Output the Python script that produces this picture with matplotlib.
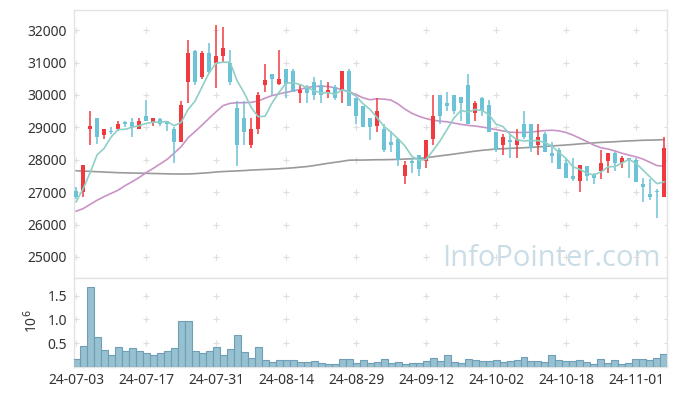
import matplotlib.pyplot as plt
import numpy as np

# daily candles, 85 trading days (24-07-03 .. 24-11-07)
opens = [27050, 27000, 28950, 29300, 28750, 28900, 28950, 29150, 29150, 28950,
         29350, 29150, 29250, 29200, 28950, 28550, 30400, 31350, 30550, 31300,
         31000, 31200, 31000, 29600, 29300, 28450, 28950, 30300, 30650, 30350,
         30800, 30750, 30050, 30200, 30400, 30300, 30050, 30250, 30150, 30750,
         29900, 29650, 29300, 29050, 28950, 28550, 28650, 27500, 27950, 28150,
         27950, 28650, 30000, 29750, 30000, 29950, 30300, 29450, 29900, 29700,
         28850, 28450, 28600, 28450, 29100, 29100, 28450, 28800, 28200, 28300,
         27900, 27500, 27350, 27800, 27550, 27650, 27950, 28200, 27900, 28050,
         28000, 27250, 26950, 27050, 26850]
highs = [27150, 27850, 29500, 29300, 28950, 29000, 29200, 29200, 29300, 29300,
         29850, 29300, 29300, 29200, 29000, 29800, 31700, 31400, 31350, 31600,
         32150, 32100, 31400, 29800, 29800, 29300, 30100, 30950, 30650, 31400,
         30800, 30800, 30300, 30300, 30550, 30450, 30400, 30300, 30750, 30800,
         29900, 29650, 29300, 29900, 29100, 28900, 28650, 27950, 28050, 28150,
         28600, 30000, 30000, 30100, 30000, 29950, 30650, 29800, 29950, 29850,
         28850, 28800, 28800, 28950, 29500, 29100, 29100, 28850, 28550, 28350,
         28050, 28050, 27850, 27800, 27600, 28300, 28200, 28250, 28100, 28050,
         28050, 27450, 27400, 27100, 28700]
lows = [26800, 26850, 28450, 28500, 28650, 28800, 28900, 29000, 28700, 28950,
        29200, 29050, 29050, 28900, 27900, 28550, 29750, 30300, 30500, 30650,
        30200, 31000, 30300, 27800, 28450, 28350, 28800, 30100, 30000, 30300,
        29900, 30100, 29750, 29750, 29850, 29750, 29900, 29850, 29750, 29650,
        29100, 29000, 28600, 28850, 28250, 28250, 27800, 27250, 27600, 27500,
        27750, 28450, 29100, 29500, 29400, 29200, 29100, 29200, 29350, 28850,
        28250, 28150, 28050, 28050, 28650, 28250, 28150, 28250, 27900, 27700,
        27450, 27350, 27000, 27350, 27250, 27400, 27600, 27650, 27750, 27450,
        27300, 26700, 26750, 26200, 26850]
closes = [26850, 27850, 29050, 28700, 28950, 28850, 29100, 29100, 29000, 29200,
          29200, 29300, 29100, 29100, 28550, 29700, 31300, 30400, 31300, 30700,
          31200, 31450, 30400, 28450, 28850, 28950, 30000, 30450, 30500, 30500,
          30350, 30100, 30150, 30050, 30000, 30000, 30150, 29900, 30750, 29650,
          29350, 29000, 29000, 29500, 28300, 28450, 28000, 27850, 27900, 27700,
          28600, 29350, 29350, 29650, 29500, 29750, 29100, 29750, 29500, 28850,
          28300, 28700, 28550, 28650, 28700, 28350, 28700, 28250, 28100, 27700,
          27450, 27400, 27850, 27500, 27450, 27900, 28200, 27900, 28050, 28000,
          27300, 27150, 26850, 27000, 28350]
# volume in millions of shares
volumes = [0.17, 0.45, 1.69, 0.62, 0.35, 0.25, 0.41, 0.33, 0.39, 0.33,
           0.29, 0.25, 0.29, 0.33, 0.39, 0.97, 0.97, 0.33, 0.29, 0.33,
           0.41, 0.25, 0.37, 0.68, 0.31, 0.19, 0.41, 0.15, 0.11, 0.15,
           0.15, 0.15, 0.11, 0.11, 0.13, 0.09, 0.07, 0.07, 0.16, 0.16,
           0.08, 0.14, 0.08, 0.10, 0.17, 0.08, 0.10, 0.06, 0.08, 0.08,
           0.12, 0.18, 0.12, 0.26, 0.10, 0.08, 0.16, 0.14, 0.12, 0.12,
           0.14, 0.10, 0.12, 0.14, 0.20, 0.12, 0.12, 0.10, 0.26, 0.14,
           0.12, 0.12, 0.14, 0.10, 0.06, 0.16, 0.08, 0.14, 0.06, 0.08,
           0.16, 0.16, 0.14, 0.18, 0.28]

# moving averages as drawn on the chart
ma5 = [26700, 27100, 27600, 28150, 28350, 28700, 28930, 28940, 29000, 29050,
       29120, 29160, 29160, 29180, 29050, 29150, 29550, 29810, 30250, 30680,
       30980, 31010, 31010, 30440, 30070, 29620, 29330, 29340, 29750, 30080,
       30360, 30380, 30320, 30230, 30130, 30060, 30070, 30020, 30160, 30090,
       29960, 29730, 29550, 29300, 29030, 28850, 28650, 28420, 28100, 27980,
       28010, 28280, 28580, 28930, 29290, 29520, 29470, 29550, 29520, 29390,
       29100, 29020, 28780, 28610, 28580, 28590, 28590, 28530, 28420, 28220,
       28040, 27780, 27700, 27580, 27530, 27620, 27780, 27790, 27900, 28010,
       27890, 27680, 27470, 27260, 27320]
ma20 = [26410, 26490, 26620, 26750, 26860, 26960, 27060, 27200, 27320, 27450,
        27600, 27730, 27870, 28010, 28200, 28400, 28680, 28870, 29070, 29280,
        29480, 29670, 29740, 29760, 29760, 29770, 29810, 29900, 29980, 30030,
        30080, 30120, 30170, 30230, 30260, 30270, 30260, 30220, 30160, 30100,
        30010, 29910, 29850, 29880, 29870, 29840, 29720, 29560, 29430, 29340,
        29270, 29220, 29190, 29170, 29130, 29090, 29060, 29040, 29010, 28970,
        28930, 28890, 28850, 28840, 28840, 28850, 28880, 28900, 28910, 28890,
        28840, 28760, 28660, 28560, 28450, 28370, 28330, 28270, 28200, 28140,
        28090, 28020, 27920, 27820, 27800]
ma_long = [27660, 27650, 27640, 27630, 27620, 27610, 27600, 27595, 27590, 27585,
           27580, 27575, 27570, 27565, 27560, 27560, 27560, 27570, 27585, 27600,
           27620, 27635, 27645, 27655, 27665, 27680, 27690, 27700, 27710, 27720,
           27735, 27750, 27770, 27790, 27820, 27855, 27890, 27920, 27950, 27985,
           27990, 27990, 27995, 28000, 28000, 28005, 28010, 28020, 28030, 28040,
           28060, 28090, 28120, 28145, 28175, 28205, 28235, 28265, 28290, 28310,
           28330, 28340, 28350, 28360, 28370, 28380, 28395, 28410, 28425, 28440,
           28455, 28470, 28490, 28505, 28520, 28535, 28545, 28555, 28570, 28580,
           28590, 28600, 28605, 28610, 28620]

date_ticks = [0, 10, 20, 30, 40, 50, 60, 70, 80]
date_labels = ['24-07-03', '24-07-17', '24-07-31', '24-08-14', '24-08-29',
               '24-09-12', '24-10-02', '24-10-18', '24-11-01']
price_ticks = [25000, 26000, 27000, 28000, 29000, 30000, 31000, 32000]
vol_ticks = [0.5, 1.0, 1.5]

RED = '#ef3b40'
BLUE = '#6cc2d7'
EDGE = '#e3e3e3'
CROSS = '#dedede'

plt.rcParams['font.family'] = ['Noto Sans', 'DejaVu Sans']

fig = plt.figure(figsize=(6.77, 3.96), dpi=100)
ax = fig.add_axes([0.1093, 0.298, 0.8759, 0.6767])
axv = fig.add_axes([0.1093, 0.0732, 0.8759, 0.2248], sharex=ax)

x = np.arange(len(closes))
o = np.array(opens)
c = np.array(closes)
up = c > o
colors = np.where(up, RED, BLUE)

# wicks + bodies
ax.vlines(x, lows, highs, colors=colors, linewidth=1.1, zorder=3)
body_h = np.maximum(np.abs(c - o), 40)
ax.bar(x, body_h, bottom=np.minimum(o, c), width=0.62, color=colors,
       linewidth=0, zorder=4)

ax.plot(x, ma_long, color='#9a9a9a', linewidth=1.2, zorder=2)
ax.plot(x, ma20, color='#c993c6', linewidth=1.2, zorder=2)
ax.plot(x, ma5, color='#8fd0c6', linewidth=1.2, zorder=5)

axv.bar(x, volumes, width=1.0, color='#97c0d0', edgecolor='#6e9fb6',
        linewidth=0.8, zorder=3)

ax.set_xlim(-0.3, 84.43)
ax.set_ylim(24350, 32620)
axv.set_ylim(0, 1.87)

# "+" grid marks at tick crossings
gx = date_ticks + [84.43]
for a, ys in ((ax, price_ticks), (axv, vol_ticks)):
    xx, yy = np.meshgrid(gx, ys)
    a.plot(xx.ravel(), yy.ravel(), linestyle='none', marker='+', color=CROSS,
           markersize=4, markeredgewidth=0.8, zorder=1)

ax.set_yticks(price_ticks)
ax.set_yticklabels([str(v) for v in price_ticks])
axv.set_yticks(vol_ticks)
axv.set_yticklabels(['0.5', '1.0', '1.5'])
axv.set_xticks(date_ticks)
axv.set_xticklabels(date_labels)
ax.tick_params(axis='x', labelbottom=False, length=0)
for a in (ax, axv):
    a.tick_params(length=0, labelsize=10, colors='#333333', pad=5)
    for s in a.spines.values():
        s.set_color(EDGE)
        s.set_linewidth(1)
axv.tick_params(axis='x', pad=4)

fig.text(32 / 677, 1 - 321 / 396, '10$^{6}$', rotation=90, ha='center',
         va='center', fontsize=10, color='#333333')

ax.text(0.99, 12 / 268, 'InfoPointer.com', transform=ax.transAxes, ha='right',
        va='baseline', fontsize=21, color='#cadde7', family='Open Sans',
        zorder=0)

fig.savefig('out.png', dpi=100)
